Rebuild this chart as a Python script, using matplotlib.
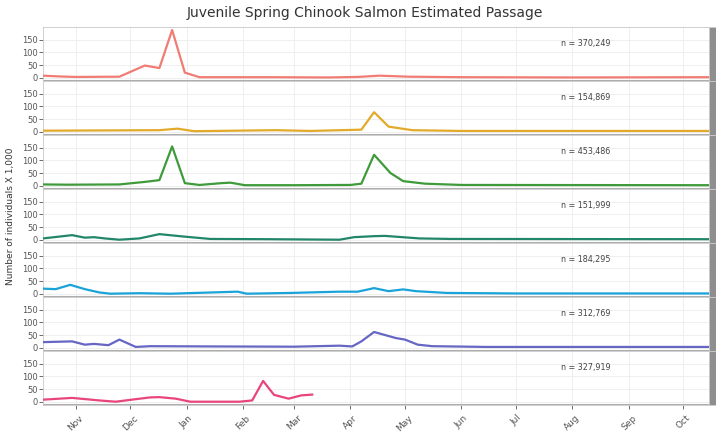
import matplotlib
matplotlib.use("Agg")
import matplotlib.pyplot as plt
import matplotlib.dates as mdates
import pandas as pd
from matplotlib.patches import Rectangle

# one panel per migration year, values in thousands of fish
panel_counts = ["n = 370,249", "n = 154,869", "n = 453,486", "n = 151,999",
                "n = 184,295", "n = 312,769", "n = 327,919"]
panel_colors = ["#F07C74", "#E3AA2A", "#3F9B3A", "#22866A",
                "#1AA3D8", "#6666C4", "#E8457E"]

dates_1 = ["2009-10-14", "2009-10-23", "2009-11-01", "2009-11-25", "2009-12-09", "2009-12-17",
           "2009-12-24", "2009-12-31", "2010-01-08", "2010-02-15", "2010-03-20", "2010-04-05",
           "2010-04-17", "2010-05-03", "2010-06-01", "2010-08-01", "2010-10-15"]
vals_1 = [8, 5, 3, 4, 48, 38, 188, 20, 2, 2, 1, 3, 8, 4, 2, 1, 2]

dates_2 = ["2009-10-14", "2009-11-15", "2009-12-17", "2009-12-27", "2010-01-05", "2010-02-19",
           "2010-03-10", "2010-04-07", "2010-04-14", "2010-04-22", "2010-05-05", "2010-06-01",
           "2010-10-15"]
vals_2 = [4, 5, 6, 12, 2, 6, 3, 8, 77, 20, 6, 3, 3]

dates_3 = ["2009-10-14", "2009-10-28", "2009-11-25", "2009-12-09", "2009-12-17", "2009-12-24",
           "2009-12-31", "2010-01-08", "2010-01-20", "2010-01-25", "2010-02-02", "2010-03-01",
           "2010-04-01", "2010-04-07", "2010-04-14", "2010-04-23", "2010-04-30", "2010-05-12",
           "2010-06-01", "2010-10-15"]
vals_3 = [5, 4, 5, 15, 22, 155, 10, 3, 10, 12, 2, 2, 3, 8, 122, 50, 18, 8, 3, 2]

dates_4 = ["2009-10-14", "2009-10-30", "2009-11-06", "2009-11-11", "2009-11-17", "2009-11-25",
           "2009-12-06", "2009-12-17", "2009-12-31", "2010-01-14", "2010-02-15", "2010-03-26",
           "2010-04-03", "2010-04-14", "2010-04-20", "2010-05-09", "2010-05-26", "2010-10-15"]
vals_4 = [5, 18, 8, 10, 5, 0, 5, 22, 12, 3, 2, 0, 10, 14, 15, 5, 3, 2]

dates_5 = ["2009-10-14", "2009-10-21", "2009-10-29", "2009-11-06", "2009-11-14", "2009-11-20",
           "2009-12-06", "2009-12-23", "2010-01-29", "2010-02-03", "2010-02-27", "2010-03-26",
           "2010-04-05", "2010-04-14", "2010-04-22", "2010-04-30", "2010-05-07", "2010-05-24",
           "2010-07-01", "2010-10-15"]
vals_5 = [20, 18, 35, 18, 5, 0, 2, 0, 8, 0, 3, 8, 8, 22, 10, 17, 10, 3, 1, 1]

dates_6 = ["2009-10-14", "2009-10-30", "2009-11-06", "2009-11-11", "2009-11-19", "2009-11-25",
           "2009-12-04", "2009-12-12", "2010-01-15", "2010-03-01", "2010-03-26", "2010-04-02",
           "2010-04-07", "2010-04-14", "2010-04-26", "2010-05-01", "2010-05-08", "2010-05-16",
           "2010-06-15", "2010-10-15"]
vals_6 = [22, 25, 12, 15, 10, 32, 3, 6, 5, 4, 8, 5, 25, 62, 38, 32, 12, 6, 3, 3]

dates_7 = ["2009-10-14", "2009-10-30", "2009-11-14", "2009-11-23", "2009-12-04", "2009-12-12",
           "2009-12-17", "2009-12-26", "2010-01-03", "2010-01-30", "2010-02-06", "2010-02-12",
           "2010-02-18", "2010-02-26", "2010-03-05", "2010-03-11"]
vals_7 = [8, 15, 5, 0, 10, 17, 18, 12, 0, 0, 5, 82, 27, 12, 25, 28]

all_dates = [dates_1, dates_2, dates_3, dates_4, dates_5, dates_6, dates_7]
all_vals = [vals_1, vals_2, vals_3, vals_4, vals_5, vals_6, vals_7]

fig, axes = plt.subplots(7, 1, sharex=True, figsize=(7.16, 4.32), dpi=100)
fig.subplots_adjust(left=0.060, right=0.990, top=0.9375, bottom=0.0625, hspace=0)

x_start = pd.Timestamp("2009-10-14")
x_end = pd.Timestamp("2010-10-15")

for i, ax in enumerate(axes):
    d = pd.to_datetime(all_dates[i])
    ax.plot(d, all_vals[i], color=panel_colors[i], linewidth=1.6, zorder=3)
    ax.axhline(-12, color="#ADADAD", linewidth=2.2, zorder=2)
    ax.set_ylim(-13, 200)
    ax.set_xlim(x_start, x_end)
    ax.set_yticks([0, 50, 100, 150])
    ax.tick_params(axis="y", labelsize=6, colors="#555555", length=3, width=0.6, pad=1)
    ax.grid(True, color="#EDEDED", linewidth=0.6)
    for s in ax.spines.values():
        s.set_color("#C8C8C8")
        s.set_linewidth(0.6)
    ax.text(0.815, 0.70, panel_counts[i], transform=ax.transAxes, fontsize=5.8,
            color="#444444", ha="center", va="center")
    # facet strip, mostly cut off at the right edge
    ax.add_patch(Rectangle((1.0, 0), 0.02, 1, transform=ax.transAxes,
                           facecolor="#8E8E8E", edgecolor="#D0D0D0", linewidth=0.5,
                           clip_on=False))

axes[-1].xaxis.set_major_locator(mdates.MonthLocator())
axes[-1].xaxis.set_major_formatter(mdates.DateFormatter("%b"))
axes[-1].tick_params(axis="x", labelsize=6.5, colors="#555555", length=3, width=0.6,
                     rotation=45, pad=3)
for lbl in axes[-1].get_xticklabels():
    lbl.set_ha("center")
for ax in axes[:-1]:
    ax.tick_params(axis="x", length=0)

fig.suptitle("Juvenile Spring Chinook Salmon Estimated Passage", fontsize=10,
             color="#333333", x=0.51, y=0.985)
fig.text(0.014, 0.5, "Number of individuals X 1,000", rotation=90, fontsize=6.5,
         color="#333333", ha="center", va="center")

plt.savefig("out.png", dpi=100)
